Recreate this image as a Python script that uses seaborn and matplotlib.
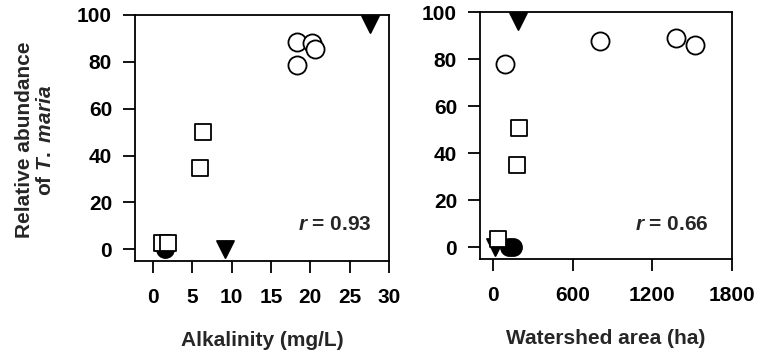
import matplotlib
matplotlib.use("Agg")
import matplotlib.pyplot as plt
import seaborn as sns
import pandas as pd

# ---- data ----
groups = ["dot", "tri", "sq", "circ"]

alk_dot_x = [1.5]
alk_dot_y = [0]
alk_tri_x = [9.1, 27.6]
alk_tri_y = [0, 96]
alk_sq_x = [1.1, 1.9, 6.0, 6.3]
alk_sq_y = [2.6, 2.6, 34.7, 50.1]
alk_circ_x = [18.3, 20.2, 20.6, 18.3]
alk_circ_y = [88.6, 88.2, 85.6, 78.8]

area_dot_x = [115, 150]
area_dot_y = [0, 0]
area_tri_x = [15, 190]
area_tri_y = [0, 96]
area_sq_x = [38, 182, 197]
area_sq_y = [3.5, 35, 50.6]
area_circ_x = [91, 805, 1375, 1520]
area_circ_y = [78, 87.6, 89, 86]

alk_ticks = [0, 5, 10, 15, 20, 25, 30]
area_ticks = [0, 600, 1200, 1800]
y_ticks = [0, 20, 40, 60, 80, 100]
r_alk = "0.93"
r_area = "0.66"

def frame(parts):
    rows = []
    for g, xs, ys in parts:
        for x, y in zip(xs, ys):
            rows.append({"x": x, "y": y, "g": g})
    return pd.DataFrame(rows)

df_alk = frame([("dot", alk_dot_x, alk_dot_y), ("tri", alk_tri_x, alk_tri_y),
                ("sq", alk_sq_x, alk_sq_y), ("circ", alk_circ_x, alk_circ_y)])
df_area = frame([("dot", area_dot_x, area_dot_y), ("tri", area_tri_x, area_tri_y),
                 ("sq", area_sq_x, area_sq_y), ("circ", area_circ_x, area_circ_y)])

sns.set_style("ticks")
plt.rcParams["font.family"] = ["Liberation Sans", "DejaVu Sans"]
plt.rcParams["font.weight"] = "bold"
plt.rcParams["mathtext.fontset"] = "custom"
plt.rcParams["mathtext.it"] = "Liberation Sans:italic:bold"
plt.rcParams["mathtext.rm"] = "Liberation Sans:bold"

FS = 15

W, H = 760, 355
fig = plt.figure(figsize=(W / 100, H / 100), dpi=100)
ax1 = fig.add_axes([135 / W, 1 - 261 / H, 254 / W, 246 / H])
ax2 = fig.add_axes([480 / W, 1 - 259 / H, 252 / W, 247 / H])

markers = {"dot": "o", "tri": "v", "sq": "s", "circ": "o"}
palette = {"dot": "black", "tri": "black", "sq": "white", "circ": "white"}
sizes = {"dot": 150, "tri": 150, "sq": 140, "circ": 170}

def draw(ax, df):
    for g in groups:
        sub = df[df["g"] == g]
        sns.scatterplot(data=sub, x="x", y="y", ax=ax, marker=markers[g],
                        color=palette[g], edgecolor="black", linewidth=1.3,
                        s=sizes[g], legend=False, zorder=3)

draw(ax1, df_alk)
draw(ax2, df_area)

ax1.set_xlim(-2.3, 30)
ax1.set_xticks(alk_ticks)
ax2.set_xlim(-100, 1800)
ax2.set_xticks(area_ticks)
for ax in (ax1, ax2):
    ax.set_ylim(-5, 100)
    ax.set_yticks(y_ticks)
    for sp in ax.spines.values():
        sp.set_visible(True)
        sp.set_linewidth(1.3)
        sp.set_color("black")
    ax.tick_params(axis="both", direction="out", length=8.5, width=1.3,
                   labelsize=FS, colors="black")
    ax.tick_params(axis="x", pad=11)
    ax.tick_params(axis="y", pad=8)
    ax.set_ylabel("")

ax1.set_xlabel("Alkalinity (mg/L)", fontsize=FS, fontweight="bold", labelpad=17)
ax2.set_xlabel("Watershed area (ha)", fontsize=FS, fontweight="bold", labelpad=17)

ax1.text(27.8, 10.7, r"$\it{r}$ = " + r_alk, ha="right", va="center",
         fontsize=FS, fontweight="bold")
ax2.text(1625, 9.8, r"$\it{r}$ = " + r_area, ha="right", va="center",
         fontsize=FS, fontweight="bold")

fig.text(35 / W, 1 - 140 / H, "Relative abundance\nof $\\it{T.\\ maria}$",
         rotation=90, ha="center", va="center", multialignment="center",
         fontsize=FS, fontweight="bold", linespacing=1.1)

fig.savefig("out.png", dpi=100)
